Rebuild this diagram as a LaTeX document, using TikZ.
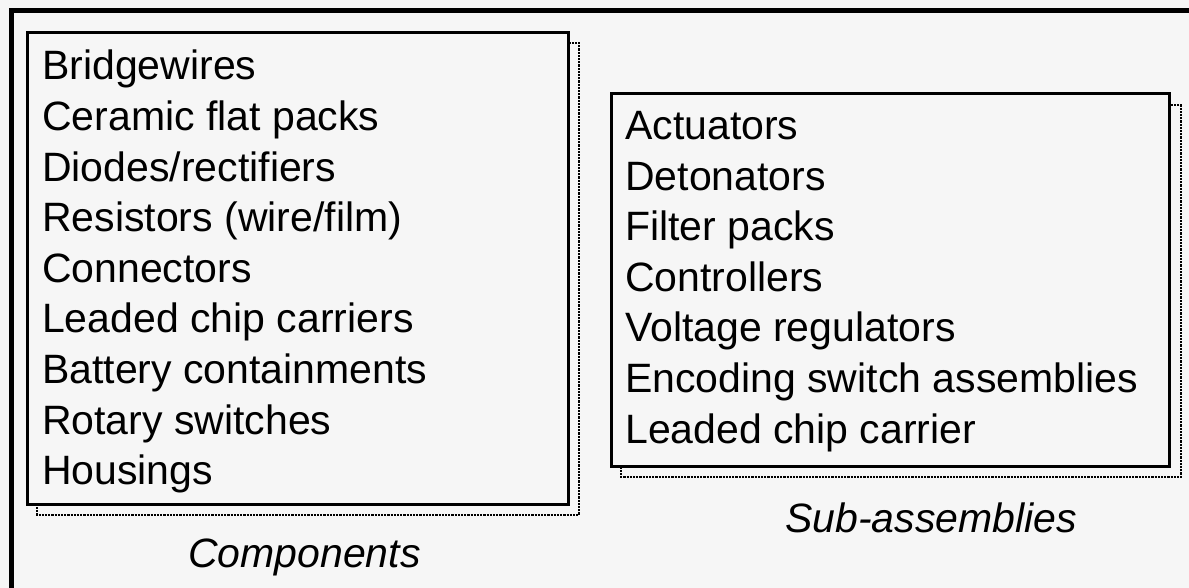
\documentclass[tikz,border=0pt]{standalone}
\usepackage{fontspec}
\setmainfont{Liberation Sans}
\definecolor{bg}{HTML}{F6F6F6}
\begin{document}
\begin{tikzpicture}[x=1pt,y=-1pt,
  framebox/.style={draw=black, line width=3pt, fill=bg},
  shadowbox/.style={draw=black, line width=2.2pt, densely dotted, fill=bg},
  listtext/.style={anchor=north west, align=left, inner sep=0pt, font=\fontsize{41}{50.6}\selectfont},
  caption/.style={anchor=base west, inner sep=0pt, font=\fontsize{41}{49}\selectfont\itshape}]
\useasboundingbox (0,0) rectangle (1189,588);
\fill[bg] (0,0) rectangle (1189,588);
% outer frame (top and left only)
\draw[line width=5pt, line cap=rect] (11.5,588) -- (11.5,10.5) -- (1189,10.5);
% left box
\draw[shadowbox] (37,43) rectangle (579,515);
\draw[framebox] (27,33) rectangle (568,504);
\node[listtext] (comp) at (42,50) {Bridgewires\\Ceramic flat packs\\Diodes/rectifiers\\Resistors (wire/film)\\Connectors\\Leaded chip carriers\\Battery containments\\Rotary switches\\Housings};
\node[caption] (complabel) at (188,567) {Components};
% right box
\draw[shadowbox] (621,105) rectangle (1181,477);
\draw[framebox] (611,94) rectangle (1169,466);
\node[listtext] (sub) at (625,111) {Actuators\\Detonators\\Filter packs\\Controllers\\Voltage regulators\\Encoding switch assemblies\\Leaded chip carrier};
\node[caption] (sublabel) at (785,532) {Sub-assemblies};
\end{tikzpicture}
\end{document}
